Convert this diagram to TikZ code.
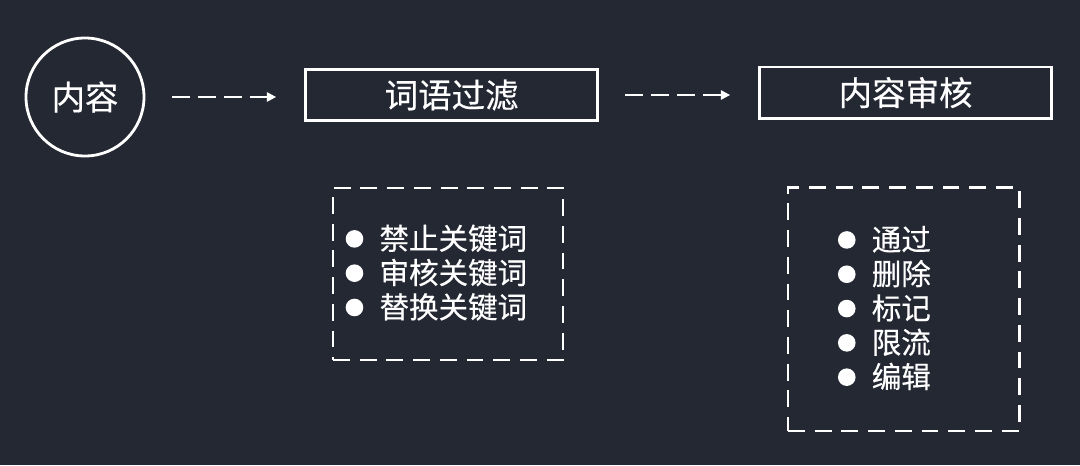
\documentclass[tikz,border=0pt]{standalone}
\usepackage{fontspec}
\setmainfont{Noto Sans CJK SC}[FakeBold=0.4]
\usetikzlibrary{arrows.meta}
\definecolor{bgdark}{HTML}{232833}
\newcommand{\listdot}{\tikz[baseline={(0,-0.36em)}]\fill[white] (0,0) circle (0.22cm);\hspace{0.55em}}

\begin{document}
\begin{tikzpicture}[
  start/.style={circle, draw=white, line width=2pt, minimum size=2.95cm, inner sep=0pt,
                text=white, font=\fontsize{23.8}{28}\selectfont},
  stage/.style={rectangle, draw=white, line width=2.1pt, minimum width=7.3cm, minimum height=1.28cm,
                text=white, font=\fontsize{23.8}{28}\selectfont},
  group/.style={rectangle, draw=white, line width=2.1pt, dash pattern=on 12pt off 7pt},
  items/.style={align=left, text=white, inner sep=0pt,
                font=\fontsize{21}{24.4}\selectfont},
  flow/.style={white, line width=1.4pt, dash pattern=on 12.5pt off 6pt,
               -{Triangle[length=6.5pt, width=6.5pt]}},
]

\fill[bgdark] (0, 0) rectangle (27, 11.625);
\useasboundingbox (0, 0) rectangle (27, 11.625);

\node[start] (content) at (2.125, 9.2) {内容};
\node[stage] (filter) at (11.29, 9.25) {词语过滤};
\node[stage] (review) at (22.64, 9.31) {内容审核};

\node[group, minimum width=5.75cm, minimum height=4.3cm] (filterbox) at (11.2, 4.775) {};
\node[group, minimum width=5.78cm, minimum height=6.08cm] (reviewbox) at (22.59, 3.89) {};

\node[items] (filterlist) at (10.91, 4.81) {
  \listdot 禁止关键词 \\
  \listdot 审核关键词 \\
  \listdot 替换关键词
};
\node[items] (reviewlist) at (22.11, 3.925) {
  \listdot 通过 \\
  \listdot 删除 \\
  \listdot 标记 \\
  \listdot 限流 \\
  \listdot 编辑
};

\draw[flow, shorten <=0.67cm, shorten >=0.7cm] (content.east) -- (content.east -| filter.west);
\draw[flow, shorten <=0.65cm, shorten >=0.7cm] (filter.east) -- (filter.east -| review.west);

\end{tikzpicture}
\end{document}
